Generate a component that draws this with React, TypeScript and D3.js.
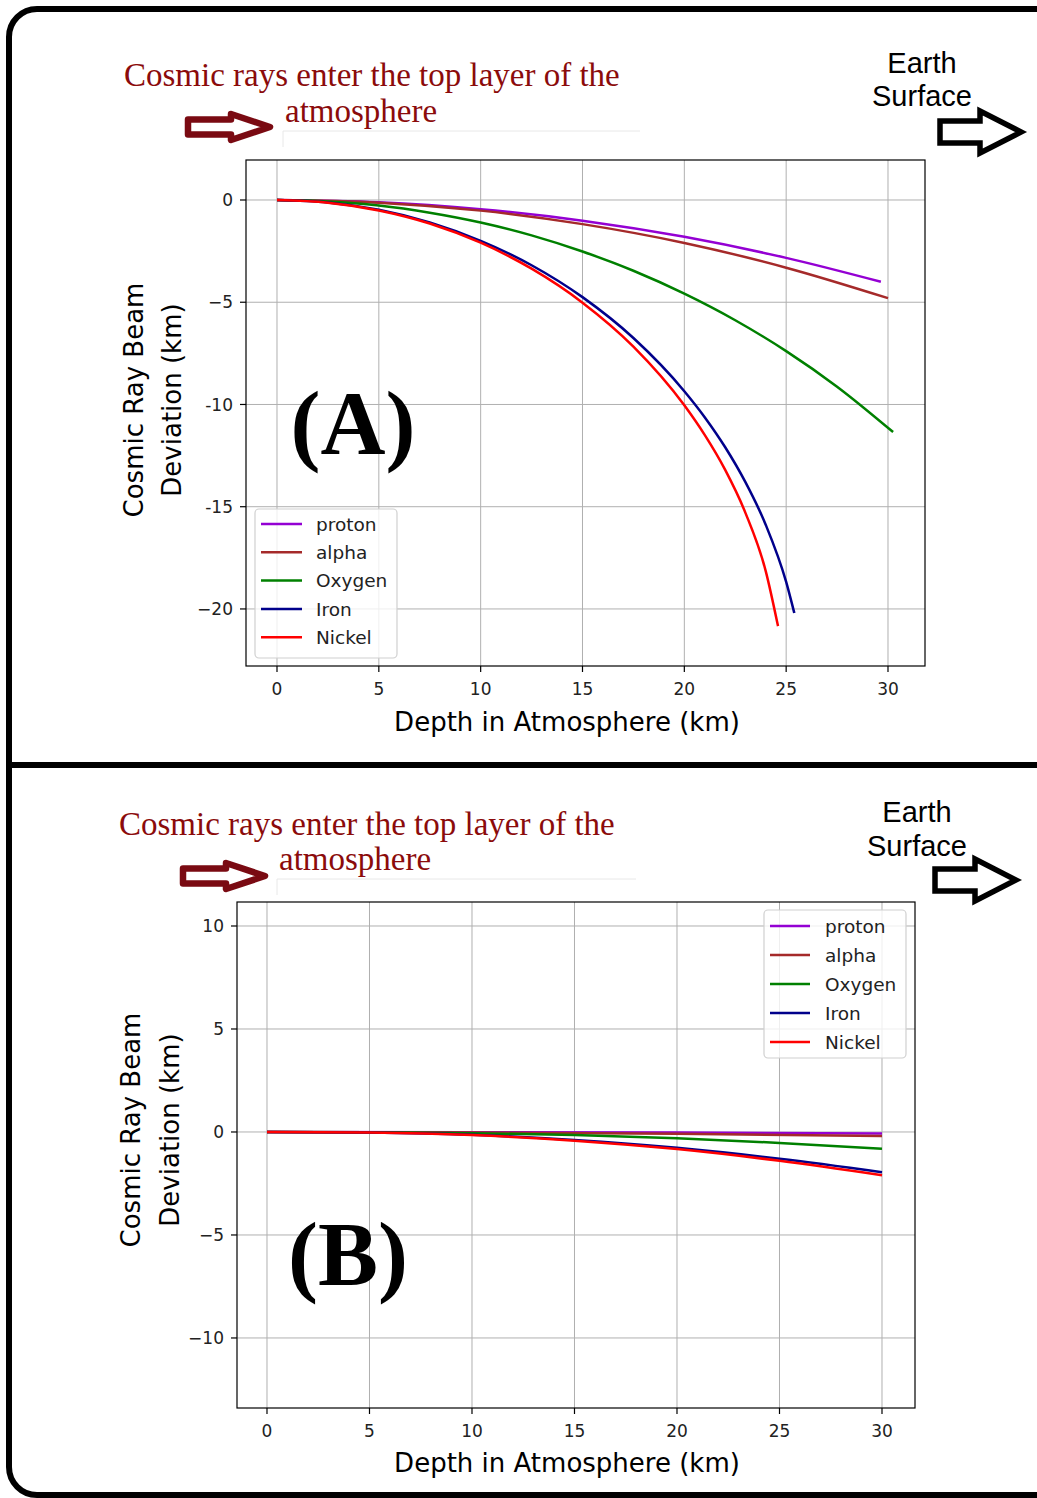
import React from "react";
import * as d3 from "d3";

// series names, colours and read-off values (depth km, deviation km)
const seriesNames = ["proton", "alpha", "Oxygen", "Iron", "Nickel"];
const seriesColors = ["#9400d3", "#a52a2a", "#008000", "#00008b", "#ff0000"];

const protonA = [[0, 0], [5, -0.11], [10, -0.45], [15, -1.01], [20, -1.8], [25, -2.83], [29.65, -4.0]];
const alphaA = [[0, 0], [5, -0.13], [10, -0.52], [15, -1.18], [20, -2.1], [25, -3.31], [30, -4.8]];
const oxygenA = [[0, 0], [2.5, -0.07], [5, -0.27], [7.5, -0.62], [10, -1.1], [12.5, -1.73], [15, -2.52], [17.5, -3.46], [20, -4.58], [22.5, -5.88], [25, -7.39], [27.5, -9.13], [30.25, -11.35]];
const ironA = [[0, 0], [2.5, -0.12], [5, -0.48], [7.5, -1.1], [10, -2.0], [12.5, -3.19], [15, -4.75], [17.5, -6.75], [20, -9.35], [21, -10.62], [22, -12.08], [23, -13.8], [24, -15.89], [25, -18.68], [25.4, -20.2]];
const nickelA = [[0, 0], [2.5, -0.13], [5, -0.51], [7.5, -1.15], [10, -2.09], [12.5, -3.36], [15, -5.02], [17.5, -7.17], [20, -10.04], [21, -11.49], [22, -13.19], [23, -15.3], [24, -18.16], [24.6, -20.84]];

const protonB = [[0, 0], [10, -0.01], [20, -0.03], [30, -0.07]];
const alphaB = [[0, 0], [10, -0.02], [20, -0.09], [30, -0.2]];
const oxygenB = [[0, 0], [5, -0.01], [10, -0.06], [15, -0.15], [20, -0.3], [25, -0.53], [30, -0.82]];
const ironB = [[0, 0], [5, -0.03], [10, -0.14], [15, -0.39], [20, -0.77], [25, -1.3], [30, -1.95]];
const nickelB = [[0, 0], [5, -0.03], [10, -0.15], [15, -0.42], [20, -0.83], [25, -1.4], [30, -2.1]];

const xTicks = [0, 5, 10, 15, 20, 25, 30];
const yTicksA = [0, -5, -10, -15, -20];
const yTickLabelsA = ["0", "\u22125", "-10", "-15", "\u221220"];
const yTicksB = [10, 5, 0, -5, -10];
const yTickLabelsB = ["10", "5", "0", "\u22125", "\u221210"];

const W = 1037;
const H = 1498;
const maroon = "#8b0b0b";
const sans = "'DejaVu Sans', sans-serif";

function arrowPath(x0: number, tip: number, base: number, cy: number, sh: number, hh: number) {
  return `M${x0},${cy - sh}L${base},${cy - sh}L${base},${cy - hh}L${tip},${cy}L${base},${cy + hh}L${base},${cy + sh}L${x0},${cy + sh}Z`;
}

const panels = [
  {
    key: "A",
    plot: { left: 246, right: 925, top: 160, bottom: 666 },
    xDomain: [-1.522, 31.817],
    yDomain: [1.956, -22.79],
    yTicks: yTicksA,
    yTickLabels: yTickLabelsA,
    data: [protonA, alphaA, oxygenA, ironA, nickelA],
    legend: { x: 255, y: 509, w: 142, h: 149, row0: 524, step: 28.3, lx0: 261, lx1: 302, tx: 316 },
    letter: { x: 353, y: 454, t: "(A)" },
    title: { x1: 124, y1: 86, x2: 285, y2: 122 },
    redArrow: { x0: 188, tip: 270, base: 231, cy: 127 },
    faint: { x0: 283, x1: 640, y: 131 },
    earth: { x: 922, y1: 73, y2: 106 },
    blackArrow: { x0: 940, tip: 1021, base: 980, cy: 132 },
    yLabel: { x1: 134, x2: 172, y: 400 },
    xLabelY: 731,
    xTickY: 695,
  },
  {
    key: "B",
    plot: { left: 237, right: 915, top: 902, bottom: 1408 },
    xDomain: [-1.463, 31.61],
    yDomain: [11.165, -13.4],
    yTicks: yTicksB,
    yTickLabels: yTickLabelsB,
    data: [protonB, alphaB, oxygenB, ironB, nickelB],
    legend: { x: 764, y: 910, w: 142, h: 148, row0: 926, step: 29, lx0: 770, lx1: 810, tx: 825 },
    letter: { x: 348, y: 1285, t: "(B)" },
    title: { x1: 119, y1: 835, x2: 279, y2: 870 },
    redArrow: { x0: 183, tip: 265, base: 226, cy: 876 },
    faint: { x0: 277, x1: 636, y: 879 },
    earth: { x: 917, y1: 822, y2: 856 },
    blackArrow: { x0: 935, tip: 1016, base: 975, cy: 880 },
    yLabel: { x1: 131, x2: 170, y: 1130 },
    xLabelY: 1472,
    xTickY: 1437,
  },
];

function Panel({ p }: { p: any }) {
  const { plot } = p;
  const x = d3.scaleLinear().domain(p.xDomain).range([plot.left, plot.right]);
  const y = d3.scaleLinear().domain(p.yDomain).range([plot.top, plot.bottom]);
  const line = d3.line<number[]>().x(d => x(d[0])).y(d => y(d[1])).curve(d3.curveMonotoneX);
  const lg = p.legend;

  return (
    <g>
      {/* annotation text and arrows */}
      <text x={p.title.x1} y={p.title.y1} fill={maroon} fontFamily="'Liberation Serif', serif" fontSize={33}>
        Cosmic rays enter the top layer of the
      </text>
      <text x={p.title.x2} y={p.title.y2} fill={maroon} fontFamily="'Liberation Serif', serif" fontSize={33}>
        atmosphere
      </text>
      <path d={`M${p.faint.x0},${p.faint.y + 16}V${p.faint.y}H${p.faint.x1}`} fill="none" stroke="#e8e8e8" strokeWidth={1} />
      <path d={arrowPath(p.redArrow.x0, p.redArrow.tip, p.redArrow.base, p.redArrow.cy, 7.5, 13)}
        fill="#fff" stroke="#7a0a12" strokeWidth={6.5} strokeLinejoin="round" />
      <text x={p.earth.x} y={p.earth.y1} textAnchor="middle" fontFamily="'Liberation Sans', Arial, sans-serif" fontSize={29}>Earth</text>
      <text x={p.earth.x} y={p.earth.y2} textAnchor="middle" fontFamily="'Liberation Sans', Arial, sans-serif" fontSize={29}>Surface</text>
      <path d={arrowPath(p.blackArrow.x0, p.blackArrow.tip, p.blackArrow.base, p.blackArrow.cy, 11, 21)}
        fill="#fff" stroke="#000" strokeWidth={5.5} />

      {/* grid */}
      {xTicks.map(t => (
        <line key={"gx" + t} x1={x(t)} x2={x(t)} y1={plot.top} y2={plot.bottom} stroke="#b0b0b0" strokeWidth={1} />
      ))}
      {p.yTicks.map((t: number) => (
        <line key={"gy" + t} x1={plot.left} x2={plot.right} y1={y(t)} y2={y(t)} stroke="#b0b0b0" strokeWidth={1} />
      ))}

      {/* series */}
      {p.data.map((d: number[][], i: number) => (
        <path key={seriesNames[i]} d={line(d) || ""} fill="none" stroke={seriesColors[i]} strokeWidth={2.5} />
      ))}

      {/* frame */}
      <rect x={plot.left} y={plot.top} width={plot.right - plot.left} height={plot.bottom - plot.top}
        fill="none" stroke="#000" strokeWidth={1.2} />

      {/* ticks */}
      {xTicks.map(t => (
        <g key={"tx" + t}>
          <line x1={x(t)} x2={x(t)} y1={plot.bottom} y2={plot.bottom + 6} stroke="#000" strokeWidth={1.2} />
          <text x={x(t)} y={p.xTickY} textAnchor="middle" fontFamily={sans} fontSize={17} fill="#222">{t}</text>
        </g>
      ))}
      {p.yTicks.map((t: number, i: number) => (
        <g key={"ty" + t}>
          <line x1={plot.left - 6} x2={plot.left} y1={y(t)} y2={y(t)} stroke="#000" strokeWidth={1.2} />
          <text x={plot.left - 13} y={y(t)} dy="0.36em" textAnchor="end" fontFamily={sans} fontSize={17} fill="#222">
            {p.yTickLabels[i]}
          </text>
        </g>
      ))}

      {/* axis labels */}
      <text x={567} y={p.xLabelY} textAnchor="middle" fontFamily={sans} fontSize={26}>Depth in Atmosphere (km)</text>
      <text transform={`translate(${p.yLabel.x1},${p.yLabel.y}) rotate(-90)`} dy="0.36em" textAnchor="middle" fontFamily={sans} fontSize={26}>
        Cosmic Ray Beam
      </text>
      <text transform={`translate(${p.yLabel.x2},${p.yLabel.y}) rotate(-90)`} dy="0.36em" textAnchor="middle" fontFamily={sans} fontSize={26}>
        Deviation (km)
      </text>

      {/* panel letter */}
      <text x={p.letter.x} y={p.letter.y} textAnchor="middle" fontFamily="'Liberation Serif', serif" fontWeight="bold" fontSize={90}>
        {p.letter.t}
      </text>

      {/* legend */}
      <rect x={lg.x} y={lg.y} width={lg.w} height={lg.h} rx={4} fill="#fff" fillOpacity={0.8} stroke="#d0d0d0" strokeWidth={1.2} />
      {seriesNames.map((n, i) => {
        const ry = lg.row0 + i * lg.step;
        return (
          <g key={"lg" + n}>
            <line x1={lg.lx0} x2={lg.lx1} y1={ry} y2={ry} stroke={seriesColors[i]} strokeWidth={2.5} />
            <text x={lg.tx} y={ry} dy="0.36em" fontFamily={sans} fontSize={18.5} fill="#222">{n}</text>
          </g>
        );
      })}
    </g>
  );
}

export default function App() {
  return (
    <div style={{ position: "absolute", left: 0, top: 0 }}>
      <svg width={W} height={H} style={{ display: "block", background: "#fff" }}>
        {/* outer rounded border and divider */}
        <rect x={9} y={9} width={1060} height={1486} rx={28} fill="#fff" stroke="#000" strokeWidth={6} />
        <line x1={9} x2={W} y1={765} y2={765} stroke="#000" strokeWidth={6} />
        {panels.map(p => <Panel key={p.key} p={p} />)}
      </svg>
    </div>
  );
}
